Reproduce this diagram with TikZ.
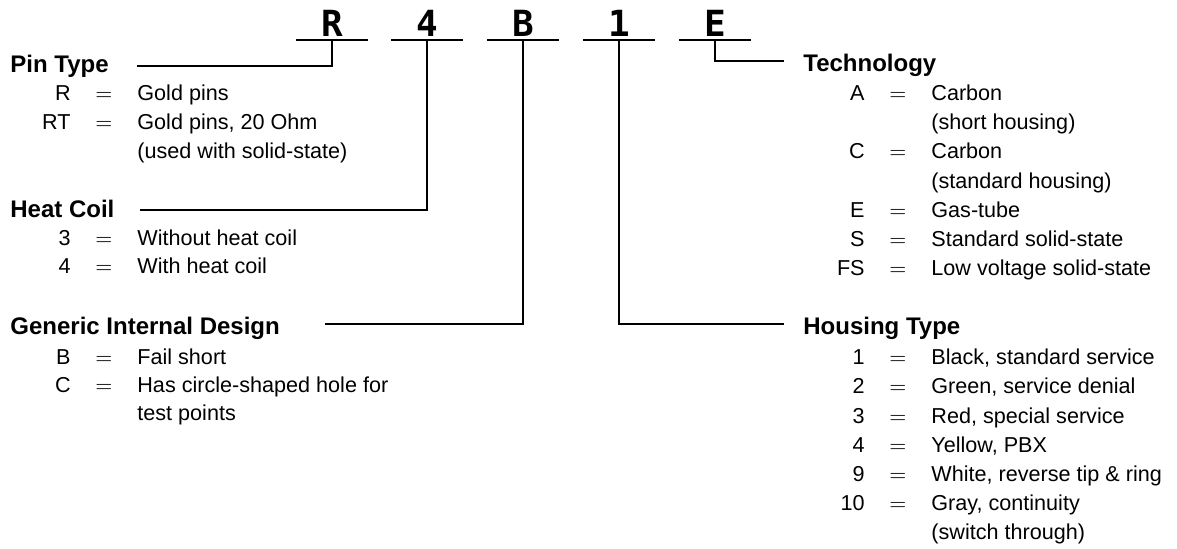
\documentclass[tikz,border=0pt]{standalone}
\usepackage{fontspec}
\setmainfont{Liberation Sans}
\newfontfamily\monofont{DejaVu Sans Mono}
\usetikzlibrary{calc}

\begin{document}
\begin{tikzpicture}[
	x=0.5pt, y=-0.5pt,
	miletra/.style ={font=\monofont\bfseries\fontsize{18}{18}\selectfont, anchor=base, inner sep=0pt},
	mititulo/.style ={font=\bfseries\fontsize{12}{14}\selectfont, anchor=base west, inner sep=0pt},
	micodigo/.style ={font=\fontsize{10.8}{13}\selectfont, anchor=base east, inner sep=0pt},
	miigual/.style ={font=\fontsize{10.8}{13}\selectfont, anchor=base, inner sep=0pt},
	mitexto/.style ={font=\fontsize{10.8}{13}\selectfont, anchor=base west, inner sep=0pt},
	milinea/.style ={line width=1.2pt}]

	\def\subrayar(#1)% Syntax: (letter node)
		{\draw[milinea] ($(#1.base)+(-36,4)$) -- ($(#1.base)+(36,4)$); }
	\def\fila(#1:#2:#3)#4#5% Syntax: (name:x of code:baseline) {code} {text}
		{\node[micodigo] (#1c) at (#2,#3) {#4};
		 \node[miigual] (#1i) at ({#2+33},#3) {$=$};
		 \node[mitexto] (#1t) at ({#2+66},#3) {#5}; }

	\useasboundingbox (0,0) rectangle (1177,548);

	\node[miletra] (lR) at (332,36) {R};
	\node[miletra] (l4) at (427,36) {4};
	\node[miletra] (lB) at (523,36) {B};
	\node[miletra] (l1) at (619,36) {1};
	\node[miletra] (lE) at (715,36) {E};

	\subrayar(lR) \subrayar(l4) \subrayar(lB) \subrayar(l1) \subrayar(lE)

	\coordinate (uR) at ($(lR.base)+(0,4)$);
	\coordinate (u4) at ($(l4.base)+(0,4)$);
	\coordinate (uB) at ($(lB.base)+(0,4)$);
	\coordinate (u1) at ($(l1.base)+(0,4)$);
	\coordinate (uE) at ($(lE.base)+(0,4)$);

	\node[mititulo] (pin) at (10,72) {Pin Type};
	\node[mititulo] (coil) at (10,217) {Heat Coil};
	\node[mititulo] (design) at (10,334) {Generic Internal Design};
	\node[mititulo] (tech) at (803,71) {Technology};
	\node[mititulo] (housing) at (803,334) {Housing Type};

	\coordinate (pinE) at (137,66);
	\coordinate (coilE) at (140,210);
	\coordinate (designE) at (325,324);
	\coordinate (techE) at (784,61);
	\coordinate (housingE) at (784,324);

	\draw[milinea] (uR) |- (pinE);
	\draw[milinea] (u4) |- (coilE);
	\draw[milinea] (uB) |- (designE);
	\draw[milinea] (u1) |- (housingE);
	\draw[milinea] (uE) |- (techE);

	\fila(pR:71:100){R}{Gold pins}
	\fila(pRT:71:129){RT}{Gold pins, 20 Ohm}
	\node[mitexto] (pRT2) at ($(pRTt.base west)+(0,29)$) {(used with solid-state)};

	\fila(h3:71:245){3}{Without heat coil}
	\fila(h4:71:273){4}{With heat coil}

	\fila(gB:71:364){B}{Fail short}
	\fila(gC:71:392){C}{Has circle-shaped hole for}
	\node[mitexto] (gC2) at ($(gCt.base west)+(0,28)$) {test points};

	\fila(tA:865:100){A}{Carbon}
	\node[mitexto] (tA2) at ($(tAt.base west)+(0,29)$) {(short housing)};
	\fila(tC:865:158){C}{Carbon}
	\node[mitexto] (tC2) at ($(tCt.base west)+(0,30)$) {(standard housing)};
	\fila(tE:865:217){E}{Gas-tube}
	\fila(tS:865:246){S}{Standard solid-state}
	\fila(tFS:865:275){FS}{Low voltage solid-state}

	\fila(c1:865:364){1}{Black, standard service}
	\fila(c2:865:393){2}{Green, service denial}
	\fila(c3:865:423){3}{Red, special service}
	\fila(c4:865:452){4}{Yellow, PBX}
	\fila(c9:865:481){9}{White, reverse tip \& ring}
	\fila(c10:865:510){10}{Gray, continuity}
	\node[mitexto] (c102) at ($(c10t.base west)+(0,29)$) {(switch through)};

\end{tikzpicture}
\end{document}
